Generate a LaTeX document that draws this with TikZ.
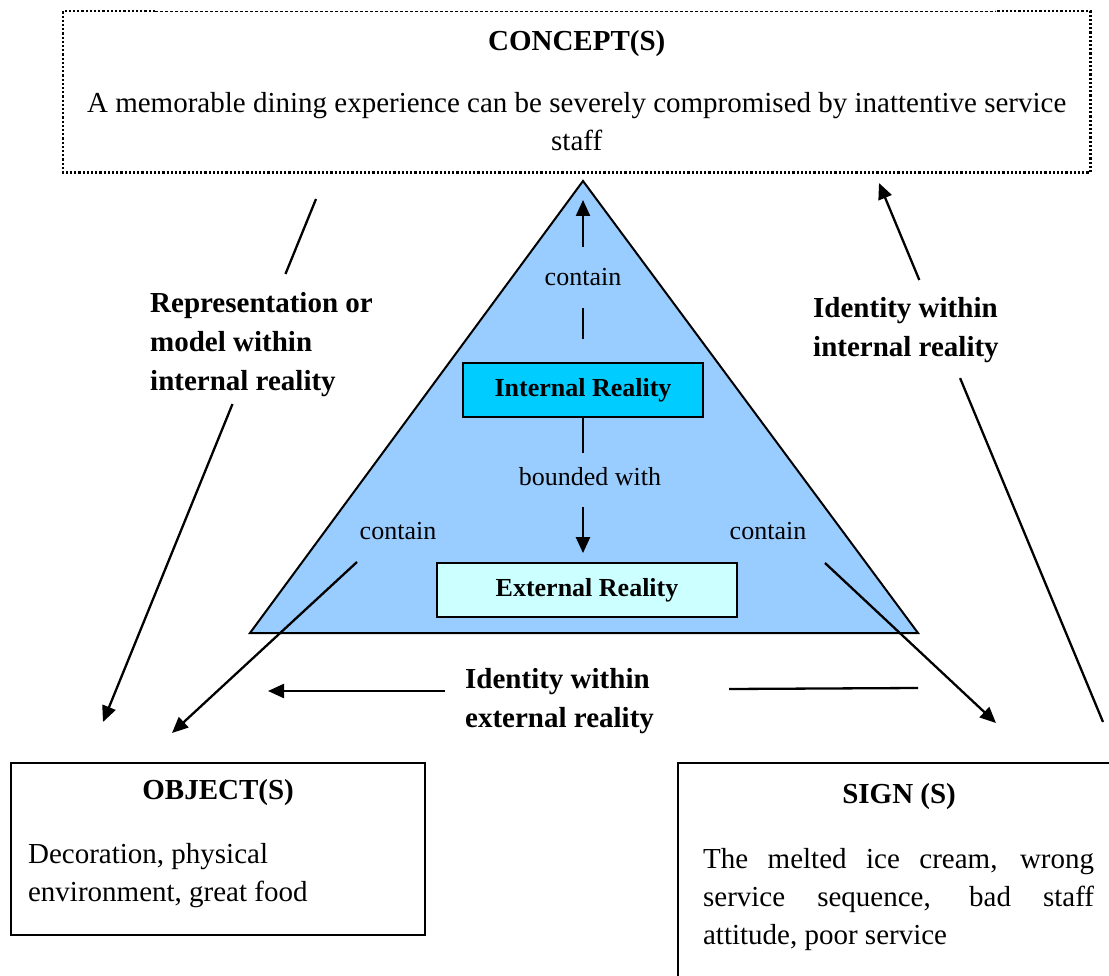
\documentclass[tikz,border=0pt]{standalone}
\usepackage{fontspec}
\setmainfont{Liberation Serif}
\usetikzlibrary{arrows.meta,calc}
\definecolor{triblue}{HTML}{99CCFF}
\definecolor{irfill}{HTML}{00CCFF}
\definecolor{erfill}{HTML}{CCFFFF}

\begin{document}
\begin{tikzpicture}[x=1pt,y=-1pt,
  body/.style={font=\fontsize{29}{38}\selectfont},
  lbl/.style={font=\fontsize{29}{39}\selectfont\bfseries, align=left, inner sep=0pt, anchor=north west},
  small/.style={font=\fontsize{26}{31}\selectfont, inner xsep=0pt, text height=20pt, anchor=base},
  realm/.style={draw, line width=1.8pt, minimum height=54pt, inner sep=0pt, font=\fontsize{26}{31}\selectfont\bfseries},
  frame/.style={draw, line width=2.2pt, inner sep=0pt, anchor=north west},
  conn/.style={line width=2.3pt},
  arr/.style={line width=2.3pt, -{Triangle[length=16pt,width=14pt]}},
  dotb/.style={line width=2.4pt, dash pattern=on 2.2pt off 2pt},
  thind/.style={line width=0.9pt, dash pattern=on 3pt off 2pt}
]
\useasboundingbox (0,0) rectangle (1109,976);
\clip (0,0) rectangle (1109,976);

% concept box (border drawn separately below)
\node[anchor=north west, inner sep=0pt, minimum width=1027pt, minimum height=161pt, body] (cb) at (63,11)
  {\parbox[c][161pt][t]{1027pt}{\centering\rule{0pt}{39pt}\bfseries CONCEPT(S)\par\mdseries\vspace{24pt}A memorable dining experience can be severely compromised by inattentive service\\staff\par}};
\draw[dotb] ($(cb.north west)+(92,0)$) -- (cb.north west) -- (cb.south west) -- (cb.south east) -- (cb.north east) -- ($(cb.north east)+(-95,0)$);
\draw[thind] ($(cb.north west)+(92,0)$) -- ($(cb.north east)+(-95,0)$);

% the triangle
\draw[line width=2pt, fill=triblue] (583,181) -- (250,633) -- (918,633) -- cycle;

% realities
\node[realm, fill=irfill, minimum width=240pt] (ir) at (583,390) {Internal Reality};
\node[realm, fill=erfill, minimum width=300pt] (er) at (587,590) {External Reality};

% object and sign boxes
\node[frame, minimum width=414pt, minimum height=172pt, body] (ob) at (10,762)
  {\parbox[c][172pt][t]{414pt}{{\centering\bfseries\rule{0pt}{36pt}OBJECT(S)\par}\vspace{26pt}{\raggedright\leftskip=17pt Decoration, physical\\environment, great food\par}}};
\node[frame, minimum width=442pt, minimum height=230pt, body] (sg) at (677,762)
  {\parbox[c][230pt][t]{442pt}{{\centering\bfseries\rule{0pt}{40pt}SIGN (S)\par}\vspace{27pt}{\leftskip=25pt\makebox[391pt][s]{The melted ice cream, wrong}\\\makebox[391pt][s]{service sequence, bad staff}\\attitude, poor service\par}}};

% small labels
\node[small, text depth=3pt, inner ysep=19pt] (c1) at (583,286) {contain};
\node[small, text depth=10pt, inner ysep=12pt] (bw) at (590,485) {bounded with};
\node[small, inner ysep=0pt] (cl) at (398,539) {contain};
\node[small, inner ysep=0pt] (cr) at (768,539) {contain};

% bold labels
\node[lbl] (rep) at (150,292.4) {Representation or\\model within\\internal reality};
\node[lbl] (idi) at (813,297.4) {Identity within\\internal reality};
\node[lbl] (ide) at (465,668.4) {Identity within\\external reality};

% free ends
\coordinate (apexin) at (583,200);
\coordinate (lt) at (316,199);
\coordinate (obtipA) at (103,722);
\coordinate (obtipB) at (172,733);
\coordinate (sgtip) at (996,723);
\coordinate (rb) at (1103,722);
\coordinate (rt) at (879,183);
\coordinate (extl) at (268,691);
\coordinate (extr) at (918,688);

% connectors
\draw[conn, shorten <=23pt] (ir.north) -- (c1.south);
\draw[arr] (c1.north) -- (apexin);
\draw[conn] (ir.south) -- (ir.south |- bw.north);
\draw[arr, shorten >=9pt] (ir.south |- bw.south) -- (ir.south |- er.north);
\draw[arr] ($(cl.base)+(-41,23)$) -- (obtipB);
\draw[arr] ($(cr.base)+(57,24)$) -- (sgtip);
\draw[conn] (lt) -- ($(lt)!0.1434!(obtipA)$);
\draw[arr] ($(lt)!0.392!(obtipA)$) -- (obtipA);
\draw[conn] (rb) -- ($(rb)!0.638!(rt)$);
\draw[arr] ($(rb)!0.820!(rt)$) -- (rt);
\draw[arr] ($(ide.north west)+(-20,22.6)$) -- (extl);
\draw[conn] ($(ide.north east)+(75,20.6)$) -- (extr);
\end{tikzpicture}
\end{document}
